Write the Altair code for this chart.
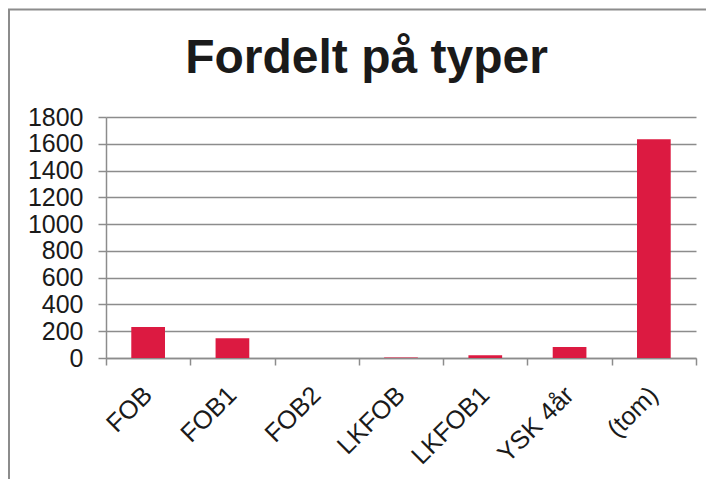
import altair as alt
import pandas as pd

categories = ["FOB", "FOB1", "FOB2", "LKFOB", "LKFOB1", "YSK 4år", "(tom)"]
counts = [232, 147, 0, 3, 20, 82, 1633]
y_ticks = [0, 200, 400, 600, 800, 1000, 1200, 1400, 1600, 1800]
title_text = ["Fordelt på typer"]

df = pd.DataFrame({"type": categories, "count": counts})

FONT = "Liberation Sans"
GRAY = "#8c8c8c"

bars = alt.Chart(df).mark_bar(color="#DC1A41", width=alt.RelativeBandSize(0.4)).encode(
    x=alt.X(
        "type:N",
        sort=categories,
        title=None,
        scale=alt.Scale(paddingInner=0, paddingOuter=0),
        axis=alt.Axis(
            labelAngle=-45,
            labelFontSize=25.5,
            labelFont=FONT,
            labelColor="#1a1a1a",
            labelPadding=17,
            labelOffset=-9,
            tickBand="extent",
            tickSize=7,
            tickColor=GRAY,
            tickWidth=1.5,
            domainColor=GRAY,
            domainWidth=1.5,
            grid=False,
        ),
    ),
    y=alt.Y(
        "count:Q",
        title=None,
        scale=alt.Scale(domain=[0, 1800], nice=False),
        axis=alt.Axis(
            values=y_ticks,
            format="d",
            labelFontSize=25,
            labelFont=FONT,
            labelColor="#1a1a1a",
            labelPadding=15,
            tickSize=8,
            tickColor=GRAY,
            tickWidth=1.5,
            domainColor=GRAY,
            domainWidth=1.5,
            gridColor=GRAY,
            gridWidth=1.5,
            gridOpacity=1,
        ),
    ),
)

frame_df = pd.DataFrame({"k": [0]})
left_line = alt.Chart(frame_df).mark_rule(color=GRAY, strokeWidth=2).encode(
    x=alt.value(-97), y=alt.value(-107.5), y2=alt.value(400)
)
top_line = alt.Chart(frame_df).mark_rule(color=GRAY, strokeWidth=2).encode(
    x=alt.value(-98), x2=alt.value(620), y=alt.value(-107.5)
)

title = alt.Chart(pd.DataFrame({"t": title_text})).mark_text(
    fontSize=48,
    fontWeight="bold",
    font=FONT,
    color="#1a1a1a",
    align="center",
    baseline="alphabetic",
).encode(text="t:N", x=alt.value(260.5), y=alt.value(-44))

chart = (
    alt.layer(bars, left_line, top_line, title)
    .properties(
        width=590,
        height=241,
        autosize=alt.AutoSizeParams(type="none"),
        padding={"left": 98, "top": 109, "right": 10, "bottom": 121},
    )
    .configure_view(stroke=None)
)

chart.save("out.html", embed_options={"renderer": "svg", "actions": False})
